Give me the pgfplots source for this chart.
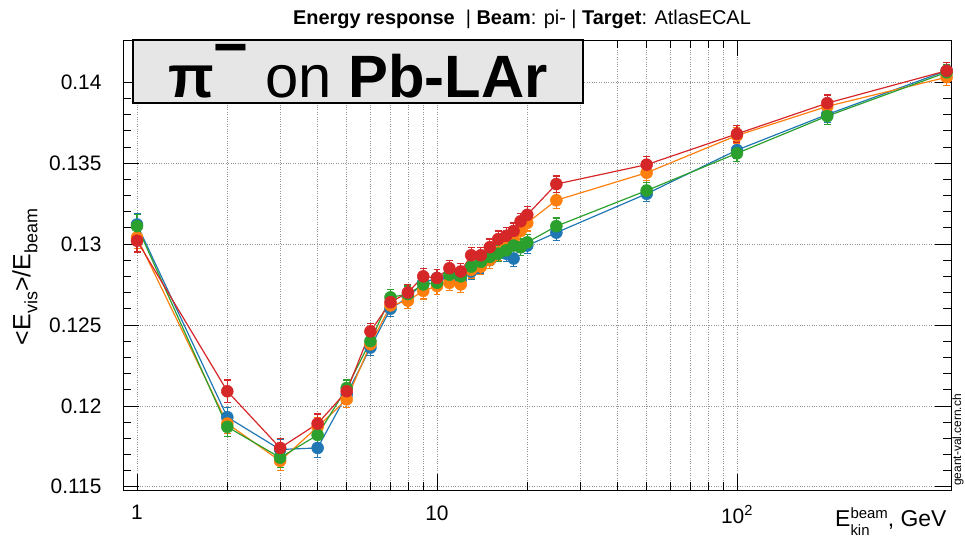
\documentclass[border=0pt]{standalone}
\usepackage{pgfplots}
\pgfplotsset{compat=1.18}
\usepackage{pgfplotstable}
\usepackage{fontspec}
\setmainfont{Liberation Sans}
\definecolor{cblue}{HTML}{1F77B4}
\definecolor{corange}{HTML}{FF7F0E}
\definecolor{cgreen}{HTML}{2CA02C}
\definecolor{cred}{HTML}{D62728}
\definecolor{boxgray}{HTML}{E6E6E6}

\pgfplotstableread{
x y e
1 0.1312 0.0007
2 0.1193 0.0006
3 0.1173 0.0006
4 0.1174 0.0006
5 0.1207 0.0005
6 0.1236 0.0005
7 0.1260 0.0005
8 0.1267 0.0005
9 0.1276 0.0005
10 0.1279 0.0005
11 0.1279 0.0005
12 0.1278 0.0005
13 0.1283 0.0005
14 0.1287 0.0005
15 0.1290 0.0005
16 0.1294 0.0005
17 0.1294 0.0005
18 0.1291 0.0005
19 0.1298 0.0005
20 0.1299 0.0005
25 0.1307 0.0005
50 0.1331 0.0005
100 0.1358 0.0005
200 0.1380 0.0005
500 0.1407 0.0005
}\tblblue

\pgfplotstableread{
x y e
1 0.1304 0.0007
2 0.1189 0.0006
3 0.1166 0.0006
4 0.1187 0.0006
5 0.1204 0.0005
6 0.1238 0.0005
7 0.1262 0.0005
8 0.1265 0.0005
9 0.1271 0.0005
10 0.1274 0.0005
11 0.1276 0.0005
12 0.1275 0.0005
13 0.1284 0.0005
14 0.1286 0.0005
15 0.1290 0.0005
16 0.1295 0.0005
17 0.1300 0.0005
18 0.1303 0.0005
19 0.1308 0.0005
20 0.1313 0.0005
25 0.1327 0.0005
50 0.1344 0.0005
100 0.1367 0.0005
200 0.1385 0.0005
500 0.1403 0.0005
}\tblorange

\pgfplotstableread{
x y e
1 0.1311 0.0007
2 0.1187 0.0006
3 0.1168 0.0006
4 0.1182 0.0006
5 0.1211 0.0005
6 0.1240 0.0005
7 0.1267 0.0005
8 0.1269 0.0005
9 0.1275 0.0005
10 0.1276 0.0005
11 0.1281 0.0005
12 0.1280 0.0005
13 0.1286 0.0005
14 0.1289 0.0005
15 0.1292 0.0005
16 0.1294 0.0005
17 0.1296 0.0005
18 0.1299 0.0005
19 0.1298 0.0005
20 0.1301 0.0005
25 0.1311 0.0005
50 0.1333 0.0005
100 0.1356 0.0005
200 0.1379 0.0005
500 0.1406 0.0005
}\tblgreen

\pgfplotstableread{
x y e
1 0.1302 0.0007
2 0.1209 0.0007
3 0.1174 0.0006
4 0.1189 0.0006
5 0.1209 0.0005
6 0.1246 0.0005
7 0.1264 0.0005
8 0.1270 0.0005
9 0.1280 0.0005
10 0.1279 0.0005
11 0.1285 0.0005
12 0.1283 0.0005
13 0.1293 0.0005
14 0.1293 0.0005
15 0.1298 0.0005
16 0.1303 0.0005
17 0.1305 0.0005
18 0.1308 0.0005
19 0.1314 0.0005
20 0.1318 0.0005
25 0.1337 0.0005
50 0.1349 0.0005
100 0.1368 0.0005
200 0.1387 0.0005
500 0.1407 0.0005
}\tblred

\pgfplotsset{
  series/.style={
    color=#1, line width=1.2pt, mark=*, mark size=6pt,
    mark options={solid, fill=#1, draw=#1, line width=0.5pt},
    error bars/.cd, y dir=both, y explicit,
    error bar style={line width=1.2pt, color=#1},
    error mark options={line width=1.2pt, mark size=3.5pt, color=#1, rotate=90}
  }
}

\newcommand{\sub}[1]{\raisebox{-0.28em}{\fontsize{18}{18}\selectfont #1}}

\begin{document}
\begin{tikzpicture}
\useasboundingbox (0,0) rectangle (965bp,540bp);
\begin{axis}[
  at={(123bp,50bp)}, anchor=south west,
  scale only axis, width=828bp, height=450bp,
  xmode=log, xmin=0.898, xmax=517,
  ymin=0.1148, ymax=0.1426,
  xtick={1,10,100}, xticklabels={1,10,10\textsuperscript{2}},
  ytick={0.115,0.12,0.125,0.13,0.135,0.14},
  yticklabels={0.115,0.12,0.125,0.13,0.135,0.14},
  minor y tick num=4,
  xtick pos=both, ytick pos=both,
  tick align=inside,
  major tick length=16bp, minor tick length=8bp,
  every tick/.style={black, line width=0.6pt},
  xmajorgrids, xminorgrids, ymajorgrids,
  grid style={dotted, gray!85, line width=0.6pt},
  ticklabel style={font=\fontsize{21}{21}\selectfont},
  xticklabel style={yshift=-12bp},
  yticklabel style={xshift=-18bp},
  axis line style={line width=0.8pt},
  clip=false,
]
\addplot[series=cblue] table[x=x,y=y,y error=e]{\tblblue};
\addplot[series=corange] table[x=x,y=y,y error=e]{\tblorange};
\addplot[series=cgreen] table[x=x,y=y,y error=e]{\tblgreen};
\addplot[series=cred] table[x=x,y=y,y error=e]{\tblred};
\end{axis}
\node at (522bp,521bp) {\fontsize{20}{20}\selectfont\textbf{Energy response} \ | \textbf{Beam}: pi- | \textbf{Target}: AtlasECAL};
\draw[fill=boxgray, line width=1.5bp] (133bp,437bp) rectangle (583bp,500bp);
\node at (358bp,469bp) {\fontsize{60}{60}\selectfont\textbf{π}\raisebox{0.5em}{\textbf{−}} on \textbf{Pb-LAr}};
\node[rotate=90] at (25bp,263bp) {\fontsize{25}{25}\selectfont <E\sub{vis}>/E\sub{beam}};
\node[anchor=base east] at (950bp,14bp) {\fontsize{23}{23}\selectfont E\raisebox{-0.05em}{\fontsize{15}{17}\selectfont\begin{tabular}[c]{@{}l@{}}beam\\kin\end{tabular}}, GeV};
\node[rotate=90] at (958bp,100bp) {\fontsize{12}{12}\selectfont geant-val.cern.ch};
\end{tikzpicture}
\end{document}
